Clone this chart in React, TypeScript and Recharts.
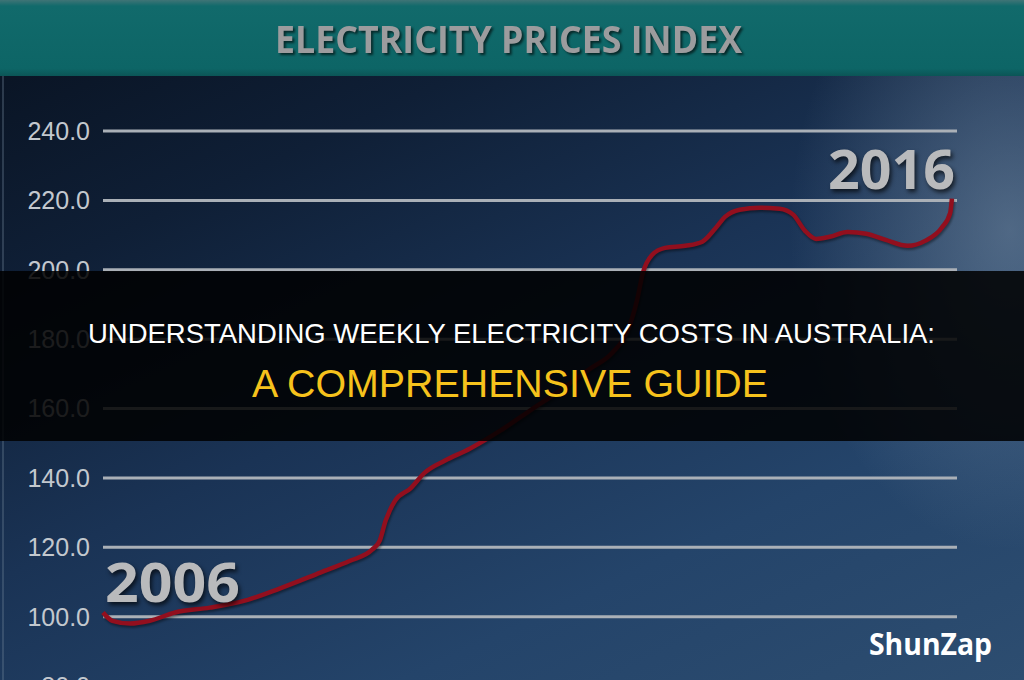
import React from 'react';
import { LineChart, Line, XAxis, YAxis, CartesianGrid, ReferenceDot } from 'recharts';

// Electricity prices index, 2006 = ~100
const years = [
  2006.0, 2006.11, 2006.32, 2006.55, 2006.85, 2007.26, 2007.67, 2008.08, 2008.56, 2008.91,
  2009.17, 2009.26, 2009.33, 2009.44, 2009.62, 2009.79, 2010.03, 2010.32, 2010.68, 2011.03,
  2011.38, 2011.74, 2012.0, 2012.18, 2012.29, 2012.36, 2012.47, 2012.62, 2012.86, 2013.06,
  2013.21, 2013.33, 2013.5, 2013.74, 2013.97, 2014.13, 2014.27, 2014.4, 2014.56, 2014.77,
  2014.99, 2015.22, 2015.48, 2015.69, 2015.88, 2015.98, 2016.0,
];
const priceIndex = [
  101.2, 98.8, 98.0, 98.8, 101.2, 102.6, 104.6, 108.1, 112.7, 116.1,
  119.3, 121.9, 127.7, 133.4, 136.9, 141.5, 145.0, 148.4, 153.6, 159.4,
  165.1, 171.5, 176.1, 182.4, 191.1, 199.1, 204.3, 206.3, 206.9, 208.1,
  211.8, 215.3, 217.3, 217.9, 217.6, 215.9, 211.2, 208.9, 209.5, 210.9,
  210.4, 208.6, 206.9, 208.4, 212.1, 216.4, 220.5,
];
const yTicks = [80, 100, 120, 140, 160, 180, 200, 220, 240];
const startLabel = { year: 2006, value: 104.3, text: '2006' };
const endLabel = { year: 2016, value: 223.3, text: '2016' };

const chartTitle = 'ELECTRICITY PRICES INDEX';
const headline1 = 'UNDERSTANDING WEEKLY ELECTRICITY COSTS IN AUSTRALIA:';
const headline2 = 'A COMPREHENSIVE GUIDE';
const watermark = 'ShunZap';

const data = years.map((year, i) => ({ year, value: priceIndex[i] }));

const yearStyle: React.CSSProperties = {
  filter: 'drop-shadow(2px 3px 2px rgba(0,0,0,0.65))',
};

const StartYear = (p: any) => (
  <text
    x={p.cx + 2}
    y={p.cy}
    fontFamily="'Open Sans', 'DejaVu Sans', sans-serif"
    fontWeight={700}
    fontSize={54}
    fill="#b9babc"
    textLength={135}
    lengthAdjust="spacingAndGlyphs"
    style={yearStyle}
  >
    {startLabel.text}
  </text>
);

const EndYear = (p: any) => (
  <text
    x={p.cx - 124}
    y={p.cy}
    fontFamily="'Open Sans', 'DejaVu Sans', sans-serif"
    fontWeight={700}
    fontSize={54}
    fill="#b9babc"
    textLength={127}
    lengthAdjust="spacingAndGlyphs"
    style={yearStyle}
  >
    {endLabel.text}
  </text>
);

export default function App() {
  return (
    <div
      style={{
        position: 'fixed',
        left: 0,
        top: 0,
        width: 1024,
        height: 680,
        overflow: 'hidden',
        background:
          'radial-gradient(ellipse 220px 320px at 1010px 230px, rgba(140,160,180,0.45), rgba(140,160,180,0) 100%), linear-gradient(155deg, #08111f 0%, #0f1f36 25%, #1a3355 50%, #24446a 75%, #2d4d70 100%)',
      }}
    >
      {/* header band */}
      <svg width={1024} height={680} style={{ position: 'absolute', left: 0, top: 0 }}>
        <defs>
          <linearGradient id="hdr" x1="0" y1="0" x2="0" y2="1">
            <stop offset="0" stopColor="#3f7476" />
            <stop offset="0.08" stopColor="#116a6b" />
            <stop offset="0.9" stopColor="#0d6566" />
            <stop offset="1" stopColor="#0b5556" />
          </linearGradient>
        </defs>
        <rect x={0} y={0} width={1024} height={76} fill="url(#hdr)" />
        <rect x={2} y={76} width={2} height={604} fill="rgba(110,130,150,0.35)" />
        <text
          x={275}
          y={53}
          fontFamily="'Open Sans', 'DejaVu Sans', sans-serif"
          fontWeight={700}
          fontSize={38}
          fill="#9c9c9e"
          textLength={467}
          lengthAdjust="spacingAndGlyphs"
          style={{ filter: 'drop-shadow(2px 2px 1px rgba(0,0,0,0.6))' }}
        >
          {chartTitle}
        </text>
      </svg>

      <div style={{ position: 'absolute', left: 0, top: 0 }}>
        <LineChart
          width={1024}
          height={720}
          data={data}
          margin={{ top: 131, right: 67, left: 0, bottom: 34 }}
        >
          <CartesianGrid vertical={false} stroke="#aab0b7" strokeWidth={3} />
          <XAxis dataKey="year" type="number" domain={[2006, 2016.06]} hide />
          <YAxis
            type="number"
            domain={[80, 240]}
            ticks={yTicks}
            width={103}
            axisLine={false}
            tickLine={false}
            tickSize={0}
            tickMargin={13}
            tickFormatter={(v: number) => v.toFixed(1)}
            tick={{ fill: '#c3c8ce', fontSize: 25, fontFamily: "'Liberation Sans', Arial, sans-serif" }}
          />
          <Line
            type="monotone"
            dataKey="value"
            stroke="#920f1e"
            strokeWidth={4.5}
            dot={false}
            isAnimationActive={false}
            style={{ filter: 'drop-shadow(1px 2px 1px rgba(0,0,0,0.4))' }}
          />
          <ReferenceDot
            x={startLabel.year}
            y={startLabel.value}
            r={1}
            ifOverflow="visible"
            shape={StartYear}
          />
          <ReferenceDot
            x={endLabel.year}
            y={endLabel.value}
            r={1}
            ifOverflow="visible"
            shape={EndYear}
          />
        </LineChart>
      </div>

      {/* headline overlay */}
      <svg width={1024} height={680} style={{ position: 'absolute', left: 0, top: 0 }}>
        <rect x={0} y={271} width={1024} height={170} fill="rgba(0,0,0,0.86)" />
        <text
          x={88}
          y={343}
          fontFamily="'Liberation Sans Narrow', 'Liberation Sans', Arial, sans-serif"
          fontSize={28}
          fill="#ffffff"
          textLength={847}
          lengthAdjust="spacingAndGlyphs"
        >
          {headline1}
        </text>
        <text
          x={252}
          y={397}
          fontFamily="'Liberation Sans Narrow', 'Liberation Sans', Arial, sans-serif"
          fontSize={39}
          fill="#f6c21c"
          textLength={516}
          lengthAdjust="spacingAndGlyphs"
        >
          {headline2}
        </text>
        <text
          x={869}
          y={655}
          fontFamily="'Open Sans', 'Noto Sans', sans-serif"
          fontWeight={700}
          fontSize={30}
          fill="#ffffff"
          textLength={123}
          lengthAdjust="spacingAndGlyphs"
        >
          {watermark}
        </text>
      </svg>
    </div>
  );
}
